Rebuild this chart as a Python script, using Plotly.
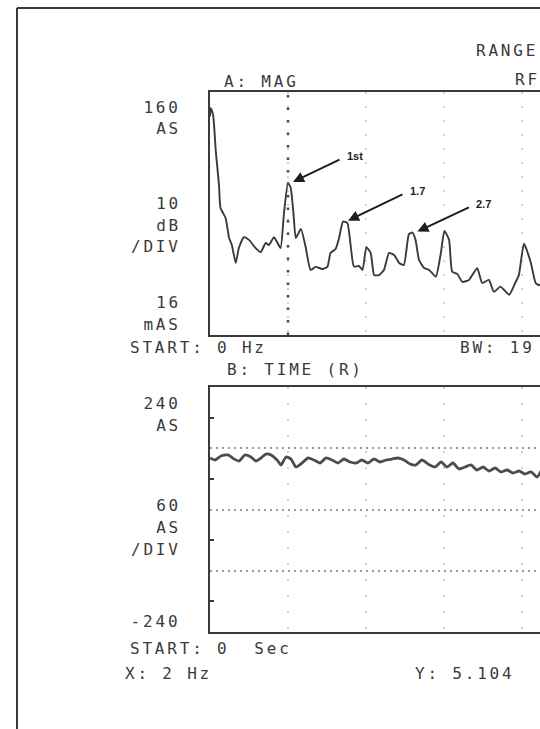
import math
import plotly.graph_objects as go

# ---- A: MAG  (spectrum, 2 Hz/div, 10 dB/div, top = 160 AS) ----
freq_hz = [0.00, 0.02, 0.08, 0.15, 0.23, 0.27, 0.40, 0.49, 0.56, 0.66, 0.74, 0.87,
           1.00, 1.17, 1.30, 1.43, 1.51, 1.64, 1.72, 1.81, 1.90, 2.00, 2.07, 2.15,
           2.20, 2.33, 2.45, 2.58, 2.71, 2.88, 3.01, 3.09, 3.22, 3.31, 3.41, 3.52,
           3.61, 3.69, 3.82, 3.91, 4.01, 4.12, 4.21, 4.33, 4.46, 4.59, 4.72, 4.85,
           4.97, 5.10, 5.19, 5.27, 5.36, 5.49, 5.62, 5.79, 5.92, 6.01, 6.13, 6.21,
           6.34, 6.47, 6.64, 6.85, 6.98, 7.15, 7.28, 7.45, 7.67, 7.84, 7.92, 8.05,
           8.22, 8.35, 8.44, 8.60]
mag_db = [36.0, 38.8, 36.5, 24.4, 13.5, 5.9, 2.6, -4.0, -6.3, -12.2, -7.3, -3.7,
          -4.6, -7.3, -8.6, -5.6, -6.3, -3.7, -5.3, -7.3, 4.6, 14.16, 12.5, 2.6,
          -4.0, -1.0, -6.8, -14.5, -13.5, -14.2, -13.5, -8.9, -7.6, -4.0, 1.4, 1.0,
          -6.8, -13.4, -13.2, -14.5, -7.0, -8.9, -16.2, -16.2, -14.5, -8.9, -9.6, -12.2,
          -12.9, -2.7, -2.2, -4.6, -11.2, -13.9, -14.5, -16.7, -8.9, -1.7, -4.6, -15.1,
          -15.8, -18.4, -17.8, -13.9, -18.8, -17.8, -21.7, -20.0, -22.7, -18.4, -16.2, -5.9,
          -11.8, -18.8, -19.5, -18.0]

# marker readout
MARKER_X_HZ = 2
MARKER_Y_AS = 5.104
mag_db[freq_hz.index(MARKER_X_HZ)] = 20 * math.log10(MARKER_Y_AS)

# labelled harmonics
peak_labels = ["1st", "1.7", "2.7"]
peak_hz = [2.00, 3.41, 5.19]
label_offsets = [(48, -23), (56, -27), (53, -25)]   # arrow tail, px from head

# ---- B: TIME (R)  (60 AS/div, 4 s/div) ----
time_s = [0.00, 0.26, 0.56, 0.92, 1.23, 1.49, 1.79, 2.10, 2.36, 2.62, 2.87, 3.13,
          3.44, 3.64, 3.90, 4.15, 4.41, 4.72, 5.03, 5.33, 5.64, 5.95, 6.26, 6.56,
          6.87, 7.18, 7.49, 7.79, 8.10, 8.41, 8.72, 9.03, 9.33, 9.64, 9.95, 10.26,
          10.56, 10.87, 11.18, 11.54, 11.85, 12.15, 12.46, 12.77, 13.08, 13.38, 13.69, 14.00,
          14.31, 14.62, 14.92, 15.23, 15.54, 15.85, 16.15, 16.46, 16.77, 16.97]
time_as = [100.9, 97.0, 104.8, 106.8, 98.9, 95.0, 106.8, 102.9, 95.0, 100.9, 108.7, 106.8,
           97.0, 87.2, 102.9, 98.9, 83.3, 91.1, 100.9, 97.0, 91.1, 100.9, 97.0, 91.1,
           98.9, 93.1, 91.1, 97.0, 91.1, 98.9, 93.1, 97.0, 98.9, 100.9, 97.0, 89.2,
           87.2, 97.0, 89.2, 83.3, 93.1, 83.3, 91.1, 79.4, 83.3, 87.2, 77.4, 83.3,
           75.4, 81.3, 73.5, 77.4, 71.5, 75.4, 69.6, 73.5, 63.7, 75.4]

W, H = 540, 729
INK = "#3a3a3a"
FONT = "DejaVu Sans Mono"
LETTER_SPACING = 2.8   # px, plotter-style wide character pitch


def px(x):
    return x / W


def py(y):
    return 1 - y / H


fig = go.Figure()

fig.add_trace(go.Scatter(x=freq_hz, y=mag_db, mode="lines",
                         line=dict(color="#3a3a3a", width=1.9, shape="spline", smoothing=0.5),
                         xaxis="x", yaxis="y", showlegend=False, hoverinfo="skip"))
fig.add_trace(go.Scatter(x=time_s, y=time_as, mode="lines",
                         line=dict(color="#4c4c4c", width=2.8, shape="spline", smoothing=0.6),
                         xaxis="x2", yaxis="y2", showlegend=False, hoverinfo="skip"))

xdom = [px(210), 1.0]
frame = dict(showline=True, linecolor=INK, linewidth=2, zeroline=False,
             showticklabels=False, ticks="", automargin=False, fixedrange=True)

fig.update_layout(
    width=W, height=H,
    margin=dict(l=0, r=0, t=0, b=0),
    paper_bgcolor="white", plot_bgcolor="white",
    xaxis=dict(domain=xdom, range=[0, (W - 210) / 78 * 2], anchor="y", mirror=True,
               showgrid=True, dtick=2, gridcolor="#d2d2d2", gridwidth=1.5,
               griddash="2px,12px", **frame),
    yaxis=dict(domain=[py(335), py(92)], range=[-35.92, 44.08], anchor="x",
               showgrid=False, **frame),
    xaxis2=dict(domain=xdom, range=[0, (W - 210) / 78 * 4], anchor="y2", mirror=True,
                showgrid=True, dtick=4, gridcolor="#d2d2d2", gridwidth=1.5,
                griddash="2px,14px", **frame),
    yaxis2=dict(domain=[py(632), py(387)], range=[-240, 240], anchor="x2",
                tickvals=[120, 0, -120], showgrid=True, gridcolor="#9c9c9c",
                gridwidth=1.5, griddash="1.5px,4.5px",
                minor=dict(tickvals=[180, 60, -60, -180], ticks="inside", ticklen=4,
                           tickwidth=2, tickcolor=INK, showgrid=False),
                **frame),
)

# marker line at X
fig.add_shape(type="line", xref="x", yref="y domain", x0=MARKER_X_HZ, x1=MARKER_X_HZ,
              y0=0, y1=1, line=dict(color="#4a4a4a", width=2.5, dash="2.5px,10px"))

# page border (left and top edges)
fig.add_shape(type="line", xref="paper", yref="paper", x0=px(17), x1=px(17),
              y0=py(8), y1=0, line=dict(color=INK, width=2))
fig.add_shape(type="line", xref="paper", yref="paper", x0=px(17), x1=1,
              y0=py(8), y1=py(8), line=dict(color=INK, width=2))

# arrows to labelled peaks
for lab, f, (ax, ay) in zip(peak_labels, peak_hz, label_offsets):
    i = min(range(len(freq_hz)), key=lambda k: abs(freq_hz[k] - f))
    fig.add_annotation(x=freq_hz[i], y=mag_db[i], xref="x", yref="y", text="",
                       showarrow=True, arrowhead=2, arrowsize=1.1, arrowwidth=2,
                       arrowcolor="#1e1e1e", ax=ax, ay=ay, xshift=5, yshift=1)
    fig.add_annotation(x=freq_hz[i], y=mag_db[i], xref="x", yref="y", text=f"<b>{lab}</b>",
                       showarrow=False, xanchor="left", yanchor="middle",
                       xshift=5 + ax + 4, yshift=1 - ay + 3,
                       font=dict(family="Liberation Sans", size=11, color="#1e1e1e"))

# panel text
labels = [
    ("RANGE", 474, 50, "left"),
    ("RF", 513, 80, "left"),
    ("A: MAG", 222, 81, "left"),
    ("160", 180, 107, "right"),
    ("AS", 180, 129, "right"),
    ("10", 180, 203, "right"),
    ("dB", 180, 225, "right"),
    ("/DIV", 180, 247, "right"),
    ("16", 180, 302, "right"),
    ("mAS", 180, 324, "right"),
    ("START: 0 Hz", 128, 347, "left"),
    ("BW: 19", 458, 347, "left"),
    ("B: TIME (R)", 225, 369, "left"),
    ("240", 180, 403, "right"),
    ("AS", 180, 425, "right"),
    ("60", 180, 505, "right"),
    ("AS", 180, 527, "right"),
    ("/DIV", 180, 549, "right"),
    ("-240", 180, 621, "right"),
    ("START: 0  Sec", 128, 648, "left"),
    ("X: 2 Hz", 123, 673, "left"),
    ("Y: 5.104", 413, 673, "left"),
]
for txt, x, y, anchor in labels:
    fig.add_annotation(x=px(x), y=py(y), xref="paper", yref="paper", text=txt,
                       showarrow=False, xanchor=anchor, yanchor="middle", align=anchor,
                       font=dict(family=FONT, size=16, color=INK))

# widen the character pitch of the panel text, keeping each label's anchored edge
spacing_js = """
var gd = document.getElementById('{plot_id}');
var anns = gd.layout.annotations;
var sp = %s;
gd.querySelectorAll('g.annotation').forEach(function (g) {
  var a = anns[+g.getAttribute('data-index')];
  if (!a || !a.font || a.font.family !== '%s') return;
  var t = g.querySelector('text.annotation-text');
  if (!t) return;
  var b0 = t.getBBox();
  t.style.letterSpacing = sp + 'px';
  var b1 = t.getBBox();
  var dx = a.xanchor === 'right'
      ? (b0.x + b0.width) - (b1.x + b1.width) + sp
      : b0.x - b1.x;
  var tr = t.getAttribute('transform') || '';
  t.setAttribute('transform', tr + ' translate(' + dx + ',0)');
});
""" % (LETTER_SPACING, FONT)

fig.write_html("out.html", post_script=spacing_js)
